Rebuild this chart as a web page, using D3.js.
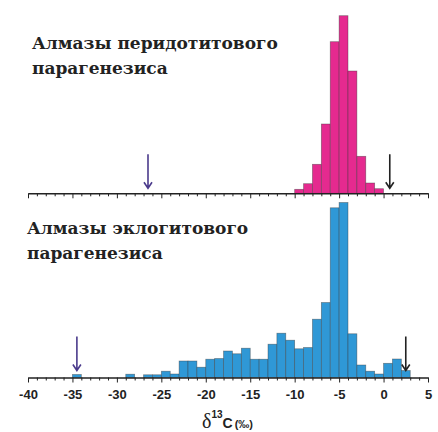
<!DOCTYPE html>
<html>
<head>
<meta charset="utf-8">
<script src="https://cdn.jsdelivr.net/npm/d3@7"></script>
<style>
  html, body { margin: 0; padding: 0; background: #fff; }
  svg { display: block; }
</style>
</head>
<body>
<div id="chart"></div>
<script>
// --- data (bin start in ‰, 1‰ wide bins; heights are relative frequency) ---
const peridotiteStart = -10;
const peridotiteValues = [4, 9.6, 29, 69.3, 151.6, 177.6, 122.3, 37, 10.3, 4.6];

const eclogiteStart = -35;
const eclogiteValues = [
    3, 0, 0, 0, 0, 0, 3.3, 0, 2.7, 2.7,          // -35 .. -26
    6.3, 3.5, 16.5, 16.5, 10.3, 18.3, 19, 26.5,   // -25 .. -18
    23.7, 29.3, 18.3, 18.3, 33.3, 44.3, 37.3,     // -17 .. -11
    28.7, 30, 58.3, 75, 169.7, 175, 43.7,         // -10 .. -4
    12.5, 6.3, 3.5, 14.2, 18.5, 7                 // -3 .. 2
];

// arrows: [value ‰, colour key]
const peridotiteArrows = [[-26.5, "purple"], [0.7, "black"]];
const eclogiteArrows = [[-34.5, "purple"], [2.5, "black"]];

const tickLabels = [-40, -35, -30, -25, -20, -15, -10, -5, 0, 5];

const COLORS = {
    pink: "#e52a8f",
    blue: "#2f98d6",
    purple: "#4b3b8c",
    black: "#222"
};

const W = 438, H = 432;
const svg = d3.select("#chart").append("svg")
    .attr("width", W).attr("height", H)
    .attr("viewBox", `0 0 ${W} ${H}`);

const x = d3.scaleLinear().domain([-40, 5]).range([28, 428]);

// bins -> {x0, x1, v}
const toBins = (start, vals) => vals.map((v, i) => ({ x0: start + i, x1: start + i + 1, v }));

function panel(baseline, bins, fill, arrows, opts) {
    const y = d3.scaleLinear().domain([0, 180]).range([baseline, baseline - 180]);
    const g = svg.append("g");

    g.selectAll("rect").data(bins.filter(d => d.v > 0)).join("rect")
        .attr("x", d => x(d.x0))
        .attr("width", d => x(d.x1) - x(d.x0))
        .attr("y", d => y(d.v))
        .attr("height", d => baseline - y(d.v))
        .attr("fill", fill)
        .attr("stroke", "#3a3a3a")
        .attr("stroke-opacity", 0.55)
        .attr("stroke-width", 0.7);

    // axis: a tick every 1‰, longer every 5‰
    const axis = d3.axisBottom(x)
        .tickValues(d3.range(-40, 6, 1))
        .tickSize(3)
        .tickSizeOuter(0)
        .tickFormat(d => (opts.labels && tickLabels.includes(d)) ? d : "");
    const ag = g.append("g")
        .attr("transform", `translate(0,${baseline})`)
        .call(axis);
    ag.select(".domain").attr("stroke", "#222").attr("stroke-width", 1.4);
    ag.selectAll(".tick line")
        .attr("stroke", "#222").attr("stroke-width", 1)
        .attr("y2", d => d % 5 === 0 ? 5 : 3);
    ag.selectAll(".tick text")
        .attr("y", 12)
        .attr("fill", "#222")
        .style("font-family", "'Liberation Sans', Arial, sans-serif")
        .style("font-weight", "bold")
        .style("font-size", "13px");

    // arrows
    arrows.forEach(([v, c]) => {
        const ax = x(v), tipY = baseline - opts.arrowGap, topY = tipY - 34;
        g.append("path")
            .attr("d", `M${ax},${topY}V${tipY}M${ax - 4},${tipY - 6}L${ax},${tipY}L${ax + 4},${tipY - 6}`)
            .attr("fill", "none")
            .attr("stroke", COLORS[c])
            .attr("stroke-width", 1.6);
    });

    // title
    const t = g.append("text")
        .attr("fill", "#222")
        .style("font-family", "'DejaVu Serif', serif")
        .style("font-weight", "bold")
        .style("font-size", "17px");
    opts.title.forEach((line, i) => {
        t.append("tspan").attr("x", opts.titleX).attr("y", opts.titleY + i * 25).text(line);
    });
}

panel(193.3, toBins(peridotiteStart, peridotiteValues), COLORS.pink, peridotiteArrows,
    { labels: false, arrowGap: 5, title: ["Алмазы перидотитового", "парагенезиса"], titleX: 32, titleY: 48.5 });

panel(377.5, toBins(eclogiteStart, eclogiteValues), COLORS.blue, eclogiteArrows,
    { labels: true, arrowGap: 7, title: ["Алмазы эклогитового", "парагенезиса"], titleX: 27, titleY: 233.5 });

// x-axis title: δ13C (‰)
const lab = svg.append("text")
    .attr("x", 202).attr("y", 428)
    .attr("fill", "#222")
    .style("font-family", "'Liberation Sans', Arial, sans-serif")
    .style("font-weight", "bold");
lab.append("tspan").style("font-family", "'Liberation Serif', serif").style("font-weight", "normal")
    .style("font-size", "20px").text("δ");
lab.append("tspan").attr("dy", -10).style("font-size", "10px").text("13");
lab.append("tspan").attr("dy", 10).style("font-size", "14px").text("C");
lab.append("tspan").attr("dx", 2).style("font-size", "11px").text("(‰)");
</script>
</body>
</html>
